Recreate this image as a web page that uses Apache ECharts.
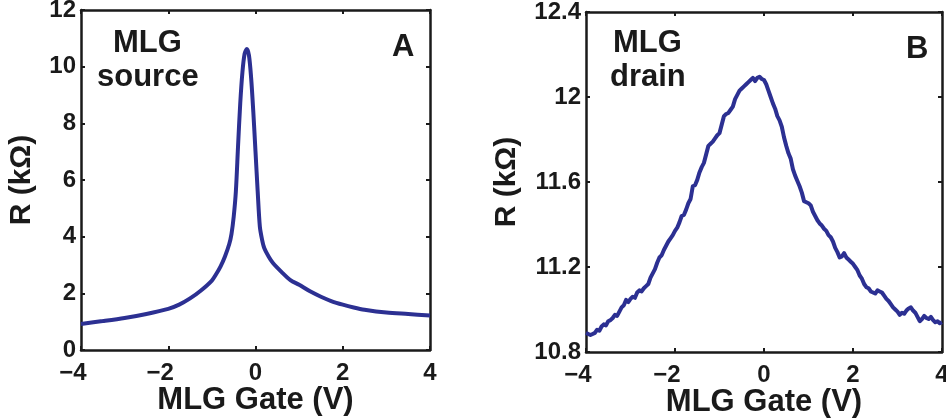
<!DOCTYPE html>
<html>
<head>
<meta charset="utf-8">
<script src="https://cdn.jsdelivr.net/npm/echarts@6/dist/echarts.min.js"></script>
<style>
  html, body { margin: 0; padding: 0; background: #fff; }
  #chart { width: 946px; height: 419px; }
</style>
</head>
<body>
<div id="chart"></div>
<script>
// Source contact: gate voltage (V) and resistance (kΩ)
const sourceGate = [-4.0, -3.5, -3.0, -2.5, -2.0, -1.75, -1.5, -1.25, -1.0, -0.9, -0.8, -0.7, -0.6, -0.55, -0.5, -0.45, -0.4, -0.35, -0.3, -0.25, -0.2, -0.15, -0.1, -0.05, 0.0, 0.05, 0.1, 0.15, 0.2, 0.3, 0.4, 0.6, 0.8, 1.0, 1.25, 1.5, 1.75, 2.0, 2.25, 2.5, 3.0, 3.5, 4.0];
const sourceR = [0.92, 1.02, 1.13, 1.27, 1.45, 1.6, 1.82, 2.1, 2.45, 2.68, 2.95, 3.3, 3.75, 4.1, 4.7, 5.6, 7.2, 8.7, 9.8, 10.45, 10.62, 10.4, 9.6, 8.4, 7.0, 5.6, 4.35, 3.9, 3.6, 3.3, 3.07, 2.75, 2.47, 2.3, 2.07, 1.88, 1.72, 1.6, 1.5, 1.42, 1.32, 1.27, 1.22];

// Drain contact: gate voltage (V) and resistance (kΩ)
const drainGate = [
  -4.00, -3.95, -3.90, -3.85, -3.80, -3.75, -3.70, -3.65, -3.60, -3.55,
  -3.50, -3.45, -3.40, -3.35, -3.30, -3.25, -3.20, -3.15, -3.10, -3.05,
  -3.00, -2.95, -2.90, -2.85, -2.80, -2.75, -2.70, -2.65, -2.60, -2.55,
  -2.50, -2.45, -2.40, -2.35, -2.30, -2.25, -2.20, -2.15, -2.10, -2.05,
  -2.00, -1.95, -1.90, -1.85, -1.80, -1.75, -1.70, -1.65, -1.60, -1.55,
  -1.50, -1.45, -1.40, -1.35, -1.30, -1.25, -1.20, -1.15, -1.10, -1.05,
  -1.00, -0.95, -0.90, -0.85, -0.80, -0.75, -0.70, -0.65, -0.60, -0.55,
  -0.50, -0.45, -0.40, -0.35, -0.30, -0.25, -0.20, -0.15, -0.10, -0.05,
   0.00,  0.05,  0.10,  0.15,  0.20,  0.25,  0.30,  0.35,  0.40,  0.45,
   0.50,  0.55,  0.60,  0.65,  0.70,  0.75,  0.80,  0.85,  0.90,  0.95,
   1.00,  1.05,  1.10,  1.15,  1.20,  1.25,  1.30,  1.35,  1.40,  1.45,
   1.50,  1.55,  1.60,  1.65,  1.70,  1.75,  1.80,  1.85,  1.90,  1.95,
   2.00,  2.05,  2.10,  2.15,  2.20,  2.25,  2.30,  2.35,  2.40,  2.45,
   2.50,  2.55,  2.60,  2.65,  2.70,  2.75,  2.80,  2.85,  2.90,  2.95,
   3.00,  3.05,  3.10,  3.15,  3.20,  3.25,  3.30,  3.35,  3.40,  3.45,
   3.50,  3.55,  3.60,  3.65,  3.70,  3.75,  3.80,  3.85,  3.90,  3.95,
   4.00
];
const drainR = [
  10.890, 10.885, 10.880, 10.885, 10.890, 10.905, 10.900, 10.920, 10.930, 10.925,
  10.945, 10.950, 10.960, 10.975, 10.970, 10.990, 11.010, 11.020, 11.045, 11.035,
  11.050, 11.060, 11.055, 11.080, 11.090, 11.085, 11.100, 11.110, 11.120, 11.150,
  11.170, 11.190, 11.220, 11.245, 11.255, 11.280, 11.300, 11.320, 11.335, 11.350,
  11.370, 11.385, 11.410, 11.440, 11.445, 11.470, 11.500, 11.520, 11.580, 11.585,
  11.610, 11.645, 11.670, 11.690, 11.730, 11.770, 11.780, 11.790, 11.805, 11.820,
  11.830, 11.870, 11.910, 11.920, 11.925, 11.940, 11.955, 11.990, 12.010, 12.030,
  12.040, 12.050, 12.060, 12.070, 12.080, 12.090, 12.075, 12.090, 12.095, 12.085,
  12.080, 12.060, 12.030, 12.000, 11.970, 11.945, 11.910, 11.890, 11.860, 11.810,
  11.770, 11.735, 11.710, 11.660, 11.630, 11.605, 11.580, 11.550, 11.510, 11.505,
  11.500, 11.490, 11.460, 11.440, 11.420, 11.405, 11.395, 11.380, 11.370, 11.350,
  11.340, 11.320, 11.290, 11.270, 11.245, 11.250, 11.265, 11.245, 11.235, 11.225,
  11.215, 11.200, 11.185, 11.160, 11.145, 11.120, 11.105, 11.100, 11.085, 11.080,
  11.075, 11.090, 11.085, 11.080, 11.065, 11.050, 11.040, 11.025, 11.010, 11.000,
  10.990, 10.975, 10.985, 10.980, 10.995, 11.005, 11.010, 10.995, 10.985, 10.965,
  10.945, 10.955, 10.970, 10.960, 10.955, 10.965, 10.950, 10.940, 10.945, 10.935,
  10.940
];

const gateTicks = [-4, -2, 0, 2, 4];
const sourceTicks = [0, 2, 4, 6, 8, 10, 12];
const drainTicks = [10.8, 11.2, 11.6, 12, 12.4];

const FONT = '"Liberation Sans", Arial, sans-serif';
const INK = '#1a1a1a';
const LINE = '#2c3092';

const chart = echarts.init(document.getElementById('chart'), null, { renderer: 'canvas' });

function pairs(xs, ys) { return xs.map((x, i) => [x, ys[i]]); }

// negative gate labels use a true minus sign and sit slightly left of their tick
function gateFmt(v) {
  return v < 0 ? '{neg|\u2212' + Math.abs(v) + '}' : String(v);
}

const labelText = { color: INK, fontFamily: FONT, fontWeight: 'bold', fontSize: 24 };

function xAxisPair(gridIndex) {
  const base = {
    type: 'value', gridIndex, min: gateTicks[0], max: gateTicks[gateTicks.length - 1],
    interval: gateTicks[1] - gateTicks[0],
    axisLine: { show: true, onZero: false, lineStyle: { color: INK, width: 2.5 } },
    axisTick: { show: true, inside: true, length: 4, lineStyle: { color: INK, width: 2 } },
    splitLine: { show: false }
  };
  return [
    Object.assign({}, base, {
      position: 'bottom',
      axisLabel: Object.assign({}, labelText, {
        margin: 11, formatter: gateFmt,
        rich: { neg: Object.assign({}, labelText, { padding: [0, 16, 0, 0] }) }
      }),
      name: 'MLG Gate (V)', nameLocation: 'middle', nameGap: 35, nameMoveOverlap: false,
      nameTextStyle: { color: INK, fontFamily: FONT, fontWeight: 'bold', fontSize: 31 }
    }),
    Object.assign({}, base, { position: 'top', axisLabel: { show: false } })
  ];
}

function yAxisPair(gridIndex, ticks, fmt, gap) {
  const base = {
    type: 'value', gridIndex, min: ticks[0], max: ticks[ticks.length - 1],
    interval: +(ticks[1] - ticks[0]).toFixed(4),
    axisLine: { show: true, onZero: false, lineStyle: { color: INK, width: 2.5 } },
    axisTick: { show: true, inside: true, length: 4, lineStyle: { color: INK, width: 2 } },
    splitLine: { show: false }
  };
  return [
    Object.assign({}, base, {
      position: 'left',
      axisLabel: Object.assign({}, labelText, { margin: 5, formatter: fmt }),
      name: 'R (k\u03A9)', nameLocation: 'middle', nameRotate: 90, nameGap: gap, nameMoveOverlap: false,
      nameTextStyle: { color: INK, fontFamily: FONT, fontWeight: 'bold', fontSize: 30 }
    }),
    Object.assign({}, base, { position: 'right', axisLabel: { show: false } })
  ];
}

const panelFont = 'bold 31px ' + FONT;

chart.setOption({
  animation: false,
  backgroundColor: '#ffffff',
  grid: [
    { left: 81, top: 10, width: 349, height: 340, outerBoundsMode: 'none' },
    { left: 586, top: 12, width: 356, height: 340, outerBoundsMode: 'none' }
  ],
  xAxis: [...xAxisPair(0), ...xAxisPair(1)],
  yAxis: [
    ...yAxisPair(0, sourceTicks, v => String(v), 44),
    ...yAxisPair(1, drainTicks, v => String(+v.toFixed(1)), 64)
  ],
  series: [
    {
      type: 'line', xAxisIndex: 0, yAxisIndex: 0, data: pairs(sourceGate, sourceR),
      smooth: 0.3, showSymbol: false, lineStyle: { color: LINE, width: 4 }
    },
    {
      type: 'line', xAxisIndex: 2, yAxisIndex: 2, data: pairs(drainGate, drainR),
      showSymbol: false, lineStyle: { color: LINE, width: 4, join: 'round' }
    }
  ],
  graphic: [
    { type: 'text', left: 113, top: 28, style: { text: 'MLG', fill: INK, font: panelFont } },
    { type: 'text', left: 97, top: 62, style: { text: 'source', fill: INK, font: panelFont } },
    { type: 'text', left: 392, top: 32, style: { text: 'A', fill: INK, font: panelFont } },
    { type: 'text', left: 613, top: 28, style: { text: 'MLG', fill: INK, font: panelFont } },
    { type: 'text', left: 610, top: 62, style: { text: 'drain', fill: INK, font: panelFont } },
    { type: 'text', left: 906, top: 34, style: { text: 'B', fill: INK, font: panelFont } }
  ]
});
</script>
</body>
</html>
